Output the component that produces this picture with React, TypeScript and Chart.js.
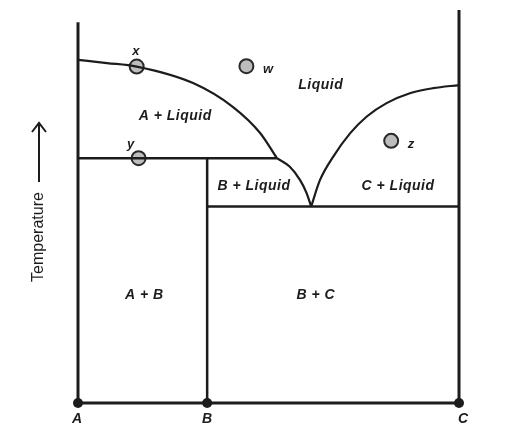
import React, { useEffect, useRef } from "react";
import { Chart, registerables } from "chart.js";

Chart.register(...registerables);

// Composition (% C, A=0 .. C=100) and temperature (relative, 0..100)
const compA = 0;
const compB = 33.9;
const compC = 100;
const peritecticT = 62.3;
const eutecticT = 50;

const liquidusA_comp = [0, 7.6, 15.4, 30.2, 40.7, 47.8, 52.2];
const liquidusA_temp = [87.3, 86.5, 85.6, 81.4, 75.3, 68.7, 62.3];

const liquidusB_comp = [52.2, 55.6, 58.3, 60.0, 61.2];
const liquidusB_temp = [62.3, 60.1, 56.7, 53.4, 50.0];

const liquidusC_comp = [61.2, 63.5, 67.0, 71.4, 75.8, 81.0, 87.1, 93.2, 100];
const liquidusC_temp = [50.0, 56.7, 62.7, 68.6, 72.9, 76.3, 78.8, 80.1, 80.9];

const markerNames = ["x", "y", "w", "z"];
const markerComp = [15.4, 15.9, 44.2, 82.2];
const markerTemp = [85.6, 62.3, 85.7, 66.7];
const markerLabelComp = [15.2, 13.8, 49.9, 87.4];
const markerLabelTemp = [89.4, 65.8, 84.9, 65.9];

const regionNames = ["Liquid", "A + Liquid", "B + Liquid", "C + Liquid", "A + B", "B + C"];
const regionComp = [63.7, 25.5, 46.2, 84.0, 17.4, 62.4];
const regionTemp = [80.9, 73.0, 55.2, 55.1, 27.5, 27.5];

const componentNames = ["A", "B", "C"];
const componentComp = [compA, compB, compC];

const leftAxisTop = 96.9;
const rightAxisTop = 100;

const zip = (xs: number[], ys: number[]) => xs.map((x, i) => ({ x, y: ys[i] }));

const INK = "#1c1c1c";

export default function App() {
  const ref = useRef<HTMLCanvasElement | null>(null);

  useEffect(() => {
    document.body.style.margin = "0";
    const canvas = ref.current;
    if (!canvas) return;

    const lineDs = (data: { x: number; y: number }[], width: number, curve = false) => ({
      type: "scatter" as const,
      data,
      showLine: true,
      borderColor: INK,
      borderWidth: width,
      pointRadius: 0,
      fill: false,
      clip: false as any,
      cubicInterpolationMode: curve ? ("monotone" as const) : ("default" as const),
      tension: 0,
    });

    const textPlugin = {
      id: "phaseText",
      afterDraw(chart: any) {
        const ctx = chart.ctx as CanvasRenderingContext2D;
        const xs = chart.scales.x;
        const ys = chart.scales.y;
        ctx.save();
        ctx.fillStyle = INK;
        ctx.textAlign = "center";
        ctx.textBaseline = "middle";

        ctx.font = "bold italic 14px 'Liberation Sans', Arial, sans-serif";
        (ctx as any).letterSpacing = "0.5px";
        regionNames.forEach((n, i) => {
          ctx.fillText(n, xs.getPixelForValue(regionComp[i]), ys.getPixelForValue(regionTemp[i]));
        });
        (ctx as any).letterSpacing = "0px";

        ctx.font = "bold italic 13px 'Liberation Sans', Arial, sans-serif";
        markerNames.forEach((n, i) => {
          ctx.fillText(
            n,
            xs.getPixelForValue(markerLabelComp[i]),
            ys.getPixelForValue(markerLabelTemp[i])
          );
        });

        ctx.font = "bold italic 14px 'Liberation Sans', Arial, sans-serif";
        componentNames.forEach((n, i) => {
          const off = i === 2 ? 4 : i === 0 ? -1 : 0;
          ctx.fillText(n, xs.getPixelForValue(componentComp[i]) + off, ys.getPixelForValue(0) + 16);
        });

        // Temperature axis title with arrow
        const ax = chart.chartArea.left - 39;
        ctx.save();
        ctx.translate(ax, 237);
        ctx.rotate(-Math.PI / 2);
        ctx.font = "16px 'Liberation Sans', Arial, sans-serif";
        ctx.fillText("Temperature", 0, 0);
        ctx.restore();

        ctx.strokeStyle = INK;
        ctx.lineWidth = 2;
        ctx.beginPath();
        ctx.moveTo(ax, 182);
        ctx.lineTo(ax, 124);
        ctx.moveTo(ax - 7, 132);
        ctx.lineTo(ax, 123);
        ctx.lineTo(ax + 7, 132);
        ctx.stroke();
        ctx.restore();
      },
    };

    const chart = new Chart(canvas, {
      type: "scatter",
      data: {
        datasets: [
          lineDs([{ x: compA, y: 0 }, { x: compA, y: leftAxisTop }], 3),
          lineDs([{ x: compC, y: 0 }, { x: compC, y: rightAxisTop }], 3),
          lineDs([{ x: compA, y: 0 }, { x: compC, y: 0 }], 3),
          lineDs([{ x: compB, y: 0 }, { x: compB, y: peritecticT }], 2.5),
          lineDs([{ x: compA, y: peritecticT }, { x: liquidusA_comp[liquidusA_comp.length - 1], y: peritecticT }], 2.5),
          lineDs([{ x: compB, y: eutecticT }, { x: compC, y: eutecticT }], 2.5),
          lineDs(zip(liquidusA_comp, liquidusA_temp), 2.2, true),
          lineDs(zip(liquidusB_comp, liquidusB_temp), 2.2, true),
          lineDs(zip(liquidusC_comp, liquidusC_temp), 2.2, true),
          {
            type: "scatter",
            data: componentComp.map((c) => ({ x: c, y: 0 })),
            pointRadius: 5,
            pointBackgroundColor: INK,
            pointBorderColor: INK,
            pointBorderWidth: 0,
            clip: false as any,
          },
          {
            type: "scatter",
            data: zip(markerComp, markerTemp),
            pointRadius: 7,
            pointBackgroundColor: "#bdbdbd",
            pointBorderColor: "#2a2a2a",
            pointBorderWidth: 2,
            clip: false as any,
          },
        ] as any,
      },
      options: {
        animation: false,
        responsive: false,
        maintainAspectRatio: false,
        events: [],
        layout: { padding: { left: 78, right: 60, top: 10, bottom: 28 } },
        plugins: { legend: { display: false }, tooltip: { enabled: false } },
        scales: {
          x: { type: "linear", min: 0, max: 100, display: false },
          y: { type: "linear", min: 0, max: 100, display: false },
        },
      },
      plugins: [textPlugin],
    });

    return () => chart.destroy();
  }, []);

  return (
    <div style={{ position: "absolute", left: 0, top: 0, width: 519, height: 431, background: "#fff" }}>
      <canvas ref={ref} width={519} height={431} style={{ width: 519, height: 431 }} />
    </div>
  );
}
